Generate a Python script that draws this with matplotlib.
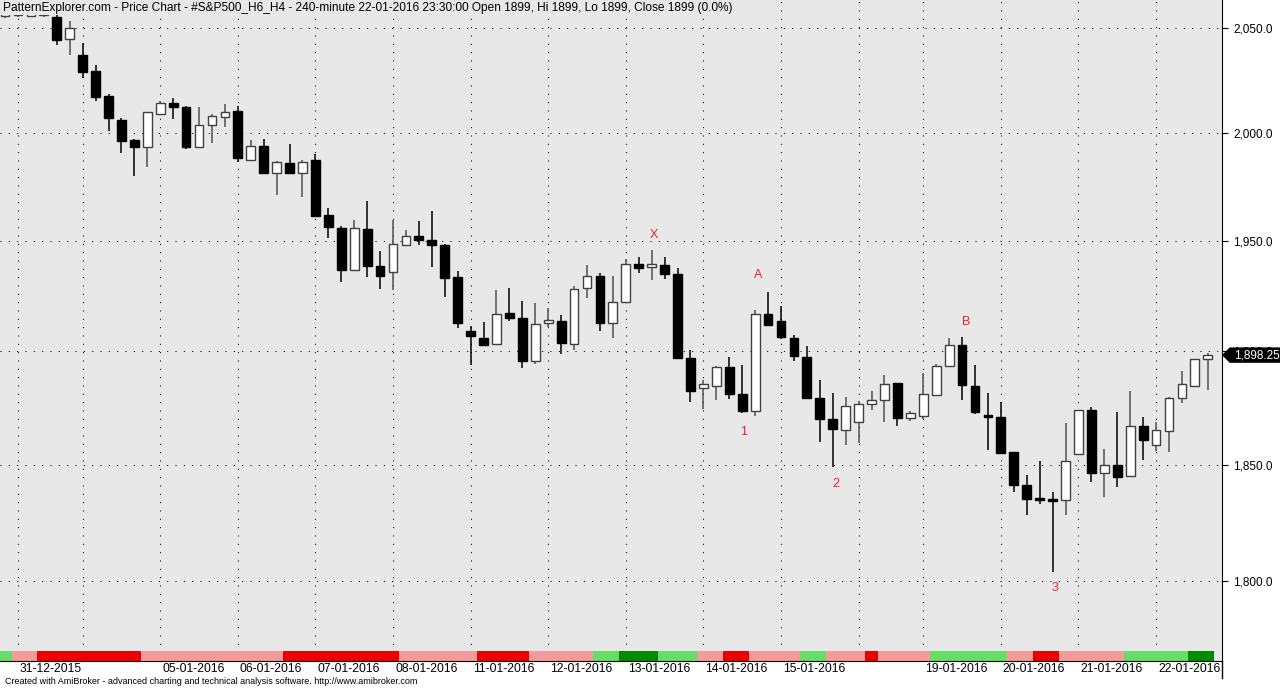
import matplotlib
matplotlib.use("Agg")
import matplotlib.pyplot as plt
from matplotlib.patches import Rectangle, Polygon
from matplotlib.lines import Line2D
from matplotlib.ticker import FixedLocator, NullLocator, FuncFormatter
from matplotlib.transforms import ScaledTranslation

plt.rcParams['font.family'] = ['Liberation Sans', 'DejaVu Sans']

# 240-minute bars, S&P500 futures, 30-12-2015 .. 22-01-2016
opens = [2056.0, 2056.2, 2056.0, 2056.3, 2055.5, 2044.8, 2037.4, 2029.5, 2017.5, 2006.3,
         1996.9, 1993.3, 2008.9, 2014.2, 2012.5, 1993.3, 2004.0, 2007.7, 2010.6, 1987.5,
         1993.8, 1981.3, 1986.0, 1981.3, 1987.4, 1961.8, 1955.9, 1936.5, 1955.4, 1938.3,
         1935.8, 1948.2, 1952.0, 1950.5, 1948.2, 1933.3, 1909.1, 1905.8, 1903.0, 1917.3,
         1914.9, 1895.5, 1912.8, 1913.4, 1903.4, 1928.6, 1933.7, 1912.8, 1922.1, 1939.2,
         1938.0, 1938.8, 1935.0, 1897.0, 1883.5, 1884.7, 1893.0, 1881.0, 1873.5, 1916.8,
         1913.4, 1906.1, 1897.4, 1879.3, 1869.8, 1865.1, 1868.7, 1876.7, 1878.3, 1885.7,
         1870.3, 1871.1, 1880.5, 1893.3, 1902.9, 1884.6, 1871.6, 1870.6, 1855.4, 1841.2,
         1835.5, 1835.0, 1834.5, 1854.4, 1873.7, 1846.1, 1850.0, 1844.9, 1866.8, 1858.6,
         1864.6, 1879.4, 1884.6, 1896.3]
highs = [2061.0, 2060.5, 2060.0, 2060.0, 2058.0, 2053.6, 2042.9, 2032.2, 2018.5, 2007.0,
         1997.2, 2010.0, 2015.0, 2016.5, 2012.8, 2012.5, 2009.3, 2013.7, 2013.0, 1996.9,
         1997.5, 1987.1, 1994.9, 1987.4, 1990.2, 1965.3, 1957.0, 1959.8, 1968.4, 1945.2,
         1959.8, 1955.1, 1959.0, 1963.7, 1948.4, 1936.2, 1911.1, 1913.1, 1927.7, 1928.3,
         1922.6, 1921.7, 1919.4, 1916.1, 1929.2, 1939.1, 1935.5, 1934.0, 1941.8, 1942.7,
         1946.0, 1942.7, 1937.7, 1900.4, 1887.1, 1893.2, 1897.4, 1894.0, 1918.3, 1926.6,
         1920.1, 1907.1, 1902.4, 1887.1, 1881.2, 1879.7, 1877.9, 1882.2, 1889.3, 1885.8,
         1873.5, 1890.4, 1894.1, 1905.9, 1906.4, 1893.7, 1881.2, 1877.5, 1855.6, 1845.6,
         1851.4, 1838.2, 1868.3, 1874.0, 1875.2, 1856.7, 1873.2, 1882.3, 1870.8, 1868.7,
         1879.5, 1891.0, 1896.6, 1899.3]
lows = [2054.8, 2055.5, 2055.3, 2055.6, 2041.8, 2037.4, 2026.4, 2015.4, 2001.2, 1990.5,
        1980.0, 1984.2, 2008.5, 2006.6, 1992.5, 1993.0, 1995.6, 2003.0, 1986.3, 1986.8,
        1981.0, 1971.0, 1981.0, 1970.0, 1961.0, 1951.3, 1931.0, 1936.0, 1933.6, 1928.1,
        1927.7, 1947.4, 1948.2, 1937.8, 1924.6, 1910.5, 1893.7, 1902.3, 1902.8, 1913.4,
        1892.6, 1894.5, 1910.9, 1898.9, 1900.4, 1923.9, 1908.9, 1905.9, 1922.0, 1935.5,
        1932.0, 1932.7, 1896.7, 1877.6, 1874.3, 1878.3, 1878.6, 1872.5, 1871.1, 1911.3,
        1905.6, 1895.5, 1878.8, 1860.0, 1849.0, 1858.6, 1859.4, 1874.1, 1868.4, 1866.9,
        1869.1, 1870.0, 1880.0, 1893.0, 1878.3, 1872.0, 1856.2, 1855.0, 1838.1, 1828.2,
        1833.0, 1803.9, 1828.0, 1854.2, 1842.4, 1835.8, 1840.3, 1844.7, 1851.8, 1855.8,
        1855.5, 1876.9, 1884.1, 1882.8]
closes = [2059.0, 2059.5, 2058.5, 2058.0, 2044.5, 2050.0, 2029.1, 2017.3, 2007.1, 1996.4,
          1993.3, 2009.8, 2014.5, 2012.2, 1993.6, 2003.8, 2007.9, 2010.1, 1988.3, 1993.8,
          1981.3, 1986.3, 1981.3, 1986.6, 1961.4, 1956.2, 1936.5, 1955.9, 1938.6, 1933.8,
          1948.5, 1952.0, 1950.5, 1948.2, 1932.8, 1912.7, 1906.6, 1902.8, 1916.8, 1914.9,
          1895.5, 1912.0, 1913.8, 1903.8, 1928.0, 1933.7, 1912.8, 1922.1, 1939.2, 1937.4,
          1939.2, 1935.0, 1897.0, 1882.5, 1885.3, 1893.0, 1881.0, 1873.3, 1916.8, 1911.9,
          1906.4, 1897.9, 1879.0, 1869.8, 1865.4, 1875.8, 1876.4, 1878.5, 1885.4, 1870.3,
          1872.5, 1880.9, 1893.3, 1902.9, 1884.9, 1872.9, 1870.6, 1855.2, 1841.0, 1835.1,
          1834.8, 1834.3, 1851.6, 1873.7, 1846.1, 1850.0, 1844.6, 1866.8, 1860.8, 1865.2,
          1879.4, 1885.4, 1896.5, 1898.25]

# colour strip under the bars, one code per bar (G light green, D dark green, P pink, R red)
strip_codes = ("G" + "PP" + "RRRRRRRR" + "PPPPPPPPPPP" + "RRRRRRRRR" + "PPPPPP" + "RRRR"
               + "PPPPP" + "GG" + "DDD" + "GGG" + "PP" + "RR" + "PPPP" + "GG" + "PPP" + "R"
               + "PPPP" + "GGGGGG" + "PP" + "RR" + "PPPPP" + "GGGGG" + "DD")
strip_colors = {"G": "#66dd66", "D": "#008c00", "P": "#f59a9a", "R": "#ee0000"}

# first bar of each trading day
day_start_idx = [1, 6, 12, 18, 24, 30, 36, 42, 48, 54, 60, 66, 71, 77, 83, 89]
date_tick_idx = [1, 12, 18, 24, 30, 36, 42, 48, 54, 60, 71, 77, 83, 89]
date_labels = ["31-12-2015", "05-01-2016", "06-01-2016", "07-01-2016", "08-01-2016",
               "11-01-2016", "12-01-2016", "13-01-2016", "14-01-2016", "15-01-2016",
               "19-01-2016", "20-01-2016", "21-01-2016", "22-01-2016"]

price_ticks = [1800, 1850, 1900, 1950, 2000, 2050]

pivot_labels = ["X", "A", "1", "2", "B", "3"]
pivot_idx = [50.2, 58.2, 57.1, 64.2, 74.3, 81.2]
pivot_price = [1952.6, 1934.3, 1864.1, 1841.4, 1913.0, 1796.8]

title = ("PatternExplorer.com - Price Chart - #S&P500_H6_H4 - 240-minute 22-01-2016 "
         "23:30:00 Open 1899, Hi 1899, Lo 1899, Close 1899 (0.0%)")
footer = ("Created with AmiBroker - advanced charting and technical analysis software. "
          "http://www.amibroker.com")

W, H = 1280, 688
bg = "#e8e8e8"

fig = plt.figure(figsize=(W / 100, H / 100), dpi=100)
ax = fig.add_axes([0, 27 / H, 1222 / W, 661 / H])
ax.set_facecolor(bg)

n = len(closes)
ax.set_xlim(-0.39, 94.1)
ax.set_yscale("log")
ax.set_ylim(1766.4, 2063.7)

# grid
for p in price_ticks:
    ax.axhline(p, color="black", lw=0.75, ls=(0, (1, 7)), zorder=1)
for d in day_start_idx:
    ax.axvline(d, color="black", lw=0.75, ls=(0, (1, 7)), zorder=1)

# candles
bw = 0.68
for i in range(n):
    o, h, l, c = opens[i], highs[i], lows[i], closes[i]
    up = c >= o
    wick = "#505050" if up else "black"
    ax.vlines(i, l, h, color=wick, lw=1.1, zorder=2)
    lo_b, hi_b = min(o, c), max(o, c)
    if hi_b - lo_b < 0.5:
        hi_b = lo_b + 0.5
    ax.add_patch(Rectangle((i - bw / 2, lo_b), bw, hi_b - lo_b,
                           facecolor="white" if up else "black",
                           edgecolor="#404040" if up else "black", lw=1.0, zorder=3))

# pattern points
for lab, xi, yp in zip(pivot_labels, pivot_idx, pivot_price):
    ax.text(xi, yp, lab, color="#ee2020", fontsize=9, ha="center", va="center", zorder=5)

# colour strip
xt = ax.get_xaxis_transform()
for i, code in enumerate(strip_codes):
    ax.add_patch(Rectangle((i - 0.5, 0), 1.0, 10.5 / 661, transform=xt,
                           facecolor=strip_colors[code], edgecolor="none", zorder=4))

# axes styling
for s in ["top", "left"]:
    ax.spines[s].set_visible(False)
ax.spines["bottom"].set_color("black")
ax.spines["right"].set_color("black")
ax.spines["bottom"].set_zorder(6)

ax.yaxis.tick_right()
ax.yaxis.set_major_locator(FixedLocator(price_ticks))
ax.yaxis.set_minor_locator(NullLocator())
ax.yaxis.set_major_formatter(FuncFormatter(lambda v, pos: f"{v:,.1f}"))
ax.tick_params(axis="y", length=4, width=0.8, pad=4, labelsize=8.5, colors="black")

ax.set_xticks(date_tick_idx)
ax.set_xticklabels(date_labels)
ax.xaxis.set_minor_locator(NullLocator())
ax.tick_params(axis="x", length=0, pad=1.5, labelsize=8.7)
shift = ScaledTranslation(0.02, 0, fig.dpi_scale_trans)
for t in ax.get_xticklabels():
    t.set_ha("left")
    t.set_transform(t.get_transform() + shift)

# title over the top of the plot
ax.add_patch(Rectangle((0, 1 - 15 / 661), 733 / 1222, 15 / 661, transform=ax.transAxes,
                       facecolor=bg, edgecolor="none", zorder=7, clip_on=False))
ax.text(3 / 1222, 1 - 8 / 661, title, transform=ax.transAxes, fontsize=8.6,
        ha="left", va="center", color="black", zorder=8)

fig.text(5 / W, 1 - 682 / H, footer, fontsize=6.5, ha="left", va="center")

# right border continues a bit below the axis
fig.add_artist(Line2D([1222 / W, 1222 / W], [1 - 678 / H, 1 - 661 / H], color="black", lw=1))

# last price tag
y_disp = ax.transData.transform((0, closes[-1]))[1]
yc = y_disp / H
hh = 7 / H
tag = Polygon([(1223 / W, yc), (1230 / W, yc + hh), (1280 / W, yc + hh),
               (1280 / W, yc - hh), (1230 / W, yc - hh)], closed=True,
              transform=fig.transFigure, facecolor="black", edgecolor="black", zorder=10)
fig.add_artist(tag)
fig.text(1234 / W, yc, f"{closes[-1]:,.2f}", color="white", fontsize=8.5,
         ha="left", va="center", zorder=11)

fig.savefig("out.png", dpi=100, facecolor="white")
